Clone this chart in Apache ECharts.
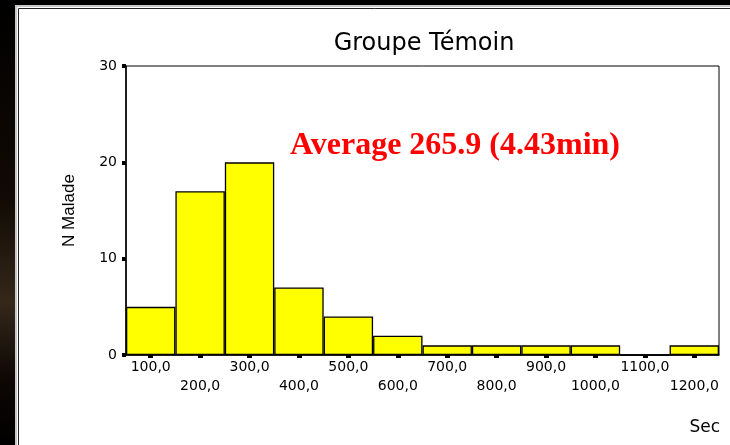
<!DOCTYPE html>
<html>
<head>
<meta charset="utf-8">
<script src="https://cdn.jsdelivr.net/npm/echarts@6/dist/echarts.min.js"></script>
<style>
html,body{margin:0;padding:0;background:#000;}
#chart{width:730px;height:445px;}
</style>
</head>
<body>
<div id="chart"></div>
<script>
const chartTitle = 'Groupe Témoin';
const annotation = 'Average 265.9 (4.43min)';
const yName = 'N Malade';
const xName = 'Sec';
const binLabels = ['100,0','200,0','300,0','400,0','500,0','600,0','700,0','800,0','900,0','1000,0','1100,0','1200,0'];
const counts = [5, 17, 20, 7, 4, 2, 1, 1, 1, 1, 0, 1];
const yMin = 0, yMax = 30, yStep = 10;

const chart = echarts.init(document.getElementById('chart'), null, {renderer: 'canvas'});
chart.setOption({
  backgroundColor: '#000',
  animation: false,
  title: {
    text: chartTitle,
    left: 419,
    top: 27,
    textAlign: 'center',
    textStyle: {fontFamily: 'DejaVu Sans', fontSize: 24, fontWeight: 'normal', color: '#000'}
  },
  graphic: [
    {type: 'rect', z: -10, silent: true, shape: {x: 0, y: 0, width: 16, height: 445},
     style: {fill: new echarts.graphic.LinearGradient(0, 0, 0, 1, [
       {offset: 0, color: '#000'}, {offset: 0.45, color: '#120a04'}, {offset: 0.68, color: '#35281a'},
       {offset: 0.85, color: '#0e0704'}, {offset: 1, color: '#000'}])}},
    {type: 'rect', z: -9, silent: true, shape: {x: 16, y: 6, width: 720, height: 450},
     style: {fill: '#fff', stroke: '#c8c8c8', lineWidth: 2}},
    {type: 'rect', z: -8, silent: true, shape: {x: 18.5, y: 8.5, width: 720, height: 450},
     style: {fill: 'transparent', stroke: '#222', lineWidth: 1}},
    {type: 'text', z: 10, x: 455, y: 146,
     style: {text: annotation, fill: '#ff0000', font: 'bold 32px "Liberation Serif"', align: 'center', verticalAlign: 'middle'}},
    {type: 'text', z: 10, x: 720, y: 428,
     style: {text: xName, fill: '#000', font: '17px "DejaVu Sans"', align: 'right', verticalAlign: 'middle'}}
  ],
  grid: {left: 126, right: 11, top: 66, bottom: 90, show: true, borderColor: '#000', borderWidth: 1, backgroundColor: 'transparent'},
  xAxis: {
    type: 'category',
    data: binLabels,
    axisLine: {lineStyle: {color: '#000', width: 1.5}},
    axisTick: {show: true, alignWithLabel: true, length: 3, lineStyle: {color: '#000', width: 5}},
    axisLabel: {
      interval: 0, margin: 3, color: '#000', fontFamily: 'DejaVu Sans', fontSize: 14, lineHeight: 19,
      formatter: function (v, i) { return i % 2 === 0 ? v : '\n' + v; }
    }
  },
  yAxis: {
    type: 'value',
    min: yMin, max: yMax, interval: yStep,
    name: yName,
    nameLocation: 'middle',
    nameGap: 48,
    nameRotate: 90,
    nameTextStyle: {fontFamily: 'Liberation Sans', fontSize: 17, color: '#000'},
    splitLine: {show: false},
    axisLine: {show: true, lineStyle: {color: '#000', width: 1.5}},
    axisTick: {show: true, length: 4, lineStyle: {color: '#000', width: 4}},
    axisLabel: {margin: 9, color: '#000', fontFamily: 'DejaVu Sans', fontSize: 14}
  },
  series: [{
    type: 'bar',
    data: counts,
    barCategoryGap: '0%',
    itemStyle: {color: '#ffff00', borderColor: '#000', borderWidth: 1.3}
  }]
});
</script>
</body>
</html>
